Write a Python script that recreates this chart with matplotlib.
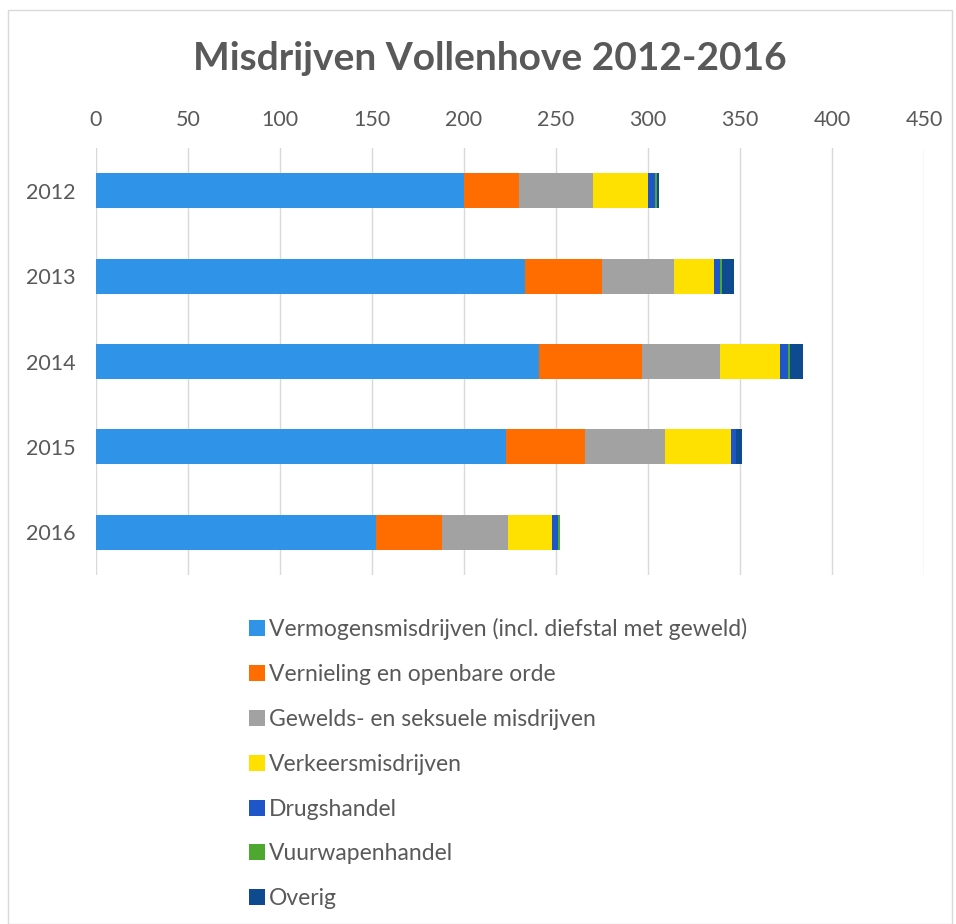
import numpy as np
import matplotlib.pyplot as plt
from matplotlib.patches import Patch, Rectangle

# --- data ---
years = ["2012", "2013", "2014", "2015", "2016"]
categories = [
    "Vermogensmisdrijven (incl. diefstal met geweld)",
    "Vernieling en openbare orde",
    "Gewelds- en seksuele misdrijven",
    "Verkeersmisdrijven",
    "Drugshandel",
    "Vuurwapenhandel",
    "Overig",
]
vermogen = [200, 233, 241, 223, 152]
vernieling = [30, 42, 56, 43, 36]
geweld = [40, 39, 42, 43, 36]
verkeer = [30, 22, 33, 36, 24]
drugs = [4, 3, 4, 3, 3]
vuurwapen = [1, 1, 1, 0, 1]
overig = [1, 7, 7, 3, 0]
series = [vermogen, vernieling, geweld, verkeer, drugs, vuurwapen, overig]
colors = ["#2F93E8", "#FF6C00", "#A2A2A2", "#FFE100", "#1E55C8", "#4EA72E", "#0D4A8F"]

plt.rcParams['font.family'] = ['Lato', 'DejaVu Sans']
text_color = "#595959"

fig = plt.figure(figsize=(9.56, 9.24), dpi=100)
ax = fig.add_axes([96 / 956, 1 - 575 / 924, (924 - 96) / 956, (575 - 148) / 924])

y = np.arange(len(years))
left = np.zeros(len(years))
for vals, col, lab in zip(series, colors, categories):
    vals = np.array(vals, dtype=float)
    ax.barh(y, vals, left=left, height=0.41, color=col, label=lab, zorder=3)
    left += vals

ax.set_xlim(0, 450)
ax.set_ylim(4.5, -0.5)
ax.set_xticks(np.arange(0, 451, 50))
ax.set_yticks(y)
ax.set_yticklabels(years)
ax.xaxis.tick_top()
ax.tick_params(axis='both', length=0, labelsize=15.5, colors=text_color)
ax.tick_params(axis='x', pad=13)
ax.tick_params(axis='y', pad=15)
ax.grid(axis='x', color="#D9D9D9", linewidth=1, zorder=0)
for s in ax.spines.values():
    s.set_visible(False)

fig.text(490 / 956, 1 - 58 / 924, "Misdrijven Vollenhove 2012-2016", ha='center', va='center',
         fontsize=28, fontweight='bold', color=text_color)

handles = [Patch(facecolor=c, edgecolor='none') for c in colors]
fig.legend(handles, categories, loc='upper left', bbox_to_anchor=(240 / 956, 1 - 609 / 924),
           frameon=False, fontsize=16.5, labelcolor=text_color, handlelength=0.7, handleheight=0.7,
           handletextpad=0.15, labelspacing=1.04, borderaxespad=0)

# chart border
fig.patches.append(Rectangle((8 / 956, 0), 944 / 956, 1 - 10 / 924, transform=fig.transFigure,
                             fill=False, edgecolor="#D9D9D9", linewidth=1))

fig.savefig("out.png", dpi=100)
